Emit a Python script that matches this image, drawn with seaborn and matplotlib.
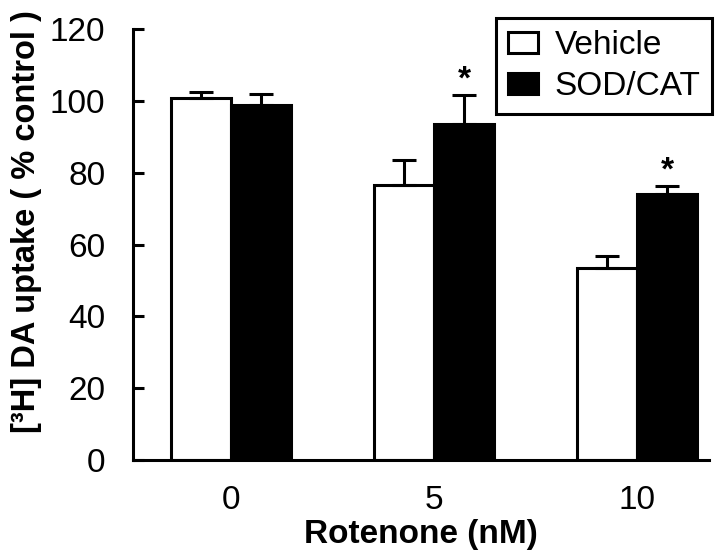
import pandas as pd
import seaborn as sns
import matplotlib.pyplot as plt
from matplotlib.patches import Patch

# valores
rotenona = ["0", "5", "10"]
tratamentos = ["Vehicle", "SOD/CAT"]
media_vehicle = [100.9, 76.6, 53.5]
erro_vehicle = [1.6, 6.8, 3.3]
media_sodcat = [98.9, 93.6, 74.2]
erro_sodcat = [2.9, 8.1, 2.2]
significativo = [False, True, True]  # asterisco sobre SOD/CAT

df = pd.DataFrame({
    "rotenona": rotenona * 2,
    "tratamento": ["Vehicle"] * 3 + ["SOD/CAT"] * 3,
    "captacao": media_vehicle + media_sodcat,
    "erro": erro_vehicle + erro_sodcat,
})

sns.set_style("ticks")
plt.rcParams["font.family"] = ["Liberation Sans", "DejaVu Sans"]
for chave in ["text.color", "axes.labelcolor", "xtick.color", "ytick.color",
              "axes.edgecolor"]:
    plt.rcParams[chave] = "black"

fig = plt.figure(figsize=(7.2, 5.57), dpi=100)
ax = fig.add_axes([0.185, 0.174, 0.8, 0.774])

lw = 2.2
sns.barplot(
    data=df, x="rotenona", y="captacao", hue="tratamento",
    order=rotenona, hue_order=tratamentos,
    palette={"Vehicle": "white", "SOD/CAT": "black"},
    edgecolor="black", linewidth=lw, width=0.59,
    errorbar=None, legend=False, ax=ax,
)

# barras de erro apenas para cima
barras = sorted(ax.patches, key=lambda p: p.get_x())
erros = [e for par in zip(erro_vehicle, erro_sodcat) for e in par]
for p, e in zip(barras, erros):
    xc = p.get_x() + p.get_width() / 2
    topo = p.get_height()
    ax.errorbar(xc, topo, yerr=[[0], [e]], fmt="none", ecolor="black",
                elinewidth=lw, capsize=8.5, capthick=lw, zorder=1)

# asteriscos
for i, sig in enumerate(significativo):
    if sig:
        p = barras[2 * i + 1]
        xc = p.get_x() + p.get_width() / 2
        ax.text(xc, media_sodcat[i] + erro_sodcat[i] + 4.0, "*",
                ha="center", va="center", fontsize=24, fontweight="bold")

ax.set_ylim(0, 120)
ax.set_xlim(-0.483, 2.355)
ax.set_yticks(range(0, 121, 20))
ax.tick_params(axis="y", direction="in", length=8, width=lw,
               labelsize=24, pad=20)
ax.tick_params(axis="x", length=0, labelsize=24, pad=18)
sns.despine(ax=ax)
for s in ["left", "bottom"]:
    ax.spines[s].set_linewidth(lw)

ax.set_xlabel("Rotenone (nM)", fontsize=24, fontweight="bold", labelpad=2)
ax.set_ylabel("[³H] DA uptake ( % control )", fontsize=23.5, fontweight="bold")
ax.yaxis.set_label_coords(-0.158, 0.553)

handles = [Patch(facecolor="white", edgecolor="black", linewidth=lw, label="Vehicle"),
           Patch(facecolor="black", edgecolor="black", linewidth=lw, label="SOD/CAT")]
leg = ax.legend(handles=handles, loc="upper right", bbox_to_anchor=(1.005, 1.025),
                fontsize=24, frameon=True, fancybox=False, framealpha=1,
                handlelength=0.9, handleheight=0.6, handletextpad=0.5,
                borderpad=0.35, labelspacing=0.3, borderaxespad=0)
leg.get_frame().set_edgecolor("black")
leg.get_frame().set_linewidth(lw)

plt.savefig("out.png", dpi=100)
